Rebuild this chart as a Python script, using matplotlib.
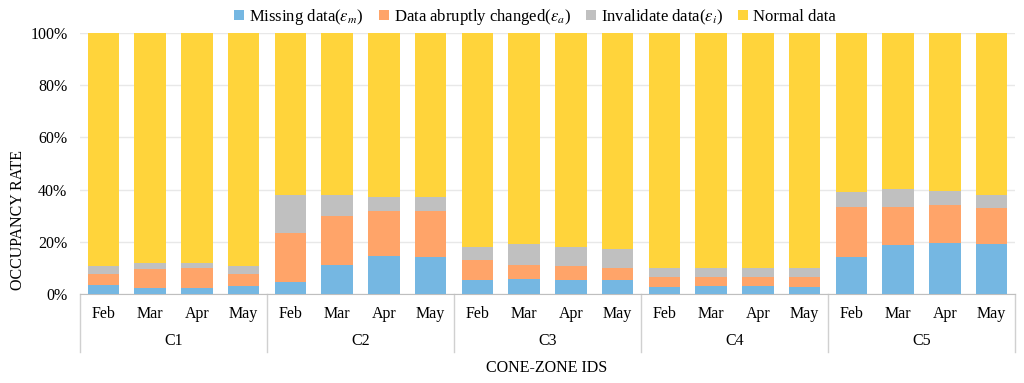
import matplotlib
matplotlib.use("Agg")
import matplotlib.pyplot as plt
import matplotlib.transforms as mtransforms
from matplotlib.patches import Patch
import numpy as np

plt.rcParams['font.family'] = ['Liberation Serif', 'DejaVu Serif']
plt.rcParams['mathtext.fontset'] = 'stix'

groups = ["C1", "C2", "C3", "C4", "C5"]
months = ["Feb", "Mar", "Apr", "May"]

missing = [3.3, 2.2, 2.2, 3.0,
           4.5, 11.1, 14.6, 14.0,
           5.4, 5.8, 5.4, 5.2,
           2.8, 3.1, 3.1, 2.8,
           14.0, 18.6, 19.4, 19.0]
abrupt = [4.2, 7.2, 7.7, 4.5,
          18.9, 18.7, 17.2, 17.8,
          7.5, 5.3, 5.2, 4.9,
          3.6, 3.3, 3.3, 3.6,
          19.2, 14.6, 14.8, 13.8]
invalid = [3.4, 2.5, 2.0, 3.4,
           14.7, 8.3, 5.4, 5.4,
           5.0, 8.0, 7.3, 7.2,
           3.5, 3.5, 3.5, 3.5,
           5.7, 7.1, 5.2, 5.3]
normal = [100 - a - b - c for a, b, c in zip(missing, abrupt, invalid)]

labels = [r"Missing data($\varepsilon_m$)", r"Data abruptly changed($\varepsilon_a$)",
          r"Invalidate data($\varepsilon_i$)", "Normal data"]
colors = ["#75B7E2", "#FFA469", "#C0C0C0", "#FFD43B"]

fig = plt.figure(figsize=(10.24, 3.83), dpi=100)
ax = fig.add_axes([80/1024, 89/383, 935/1024, 261/383])

n = len(groups) * len(months)
x = np.arange(n)
bottom = np.zeros(n)
for vals, col in zip([missing, abrupt, invalid, normal], colors):
    ax.bar(x, vals, width=0.67, bottom=bottom, color=col, zorder=3)
    bottom += np.array(vals)

ax.set_xlim(-0.5, n - 0.5)
ax.set_ylim(0, 100)
ax.set_yticks([0, 20, 40, 60, 80, 100])
ax.set_yticklabels([f"{v}%" for v in [0, 20, 40, 60, 80, 100]], fontsize=11.5)
ax.yaxis.grid(True, color="#E8E8E8", linewidth=1, zorder=0)
ax.tick_params(axis='y', length=0, pad=9)
ax.set_xticks(x)
ax.set_xticklabels(months * len(groups), fontsize=11.5)
ax.tick_params(axis='x', length=0, pad=9)
for s in ["top", "right", "left"]:
    ax.spines[s].set_visible(False)
ax.spines["bottom"].set_color("#BFBFBF")

trans = mtransforms.blended_transform_factory(ax.transData, fig.transFigure)
for i in range(len(groups) + 1):
    xp = i * len(months) - 0.5
    ax.plot([xp, xp], [89/383, 31/383], transform=trans, color="#D0D0D0",
            linewidth=1, clip_on=False)
for i, g in enumerate(groups):
    ax.text(i * len(months) + 1.5, 42/383, g, transform=trans, ha="center",
            va="center", fontsize=11.5)

fig.text(547/1024, 15/383, "CONE-ZONE IDS", ha="center", va="center", fontsize=11.5)
fig.text(18/1024, 163/383, "OCCUPANCY RATE", ha="center", va="center",
         rotation=90, fontsize=11.5)

handles = [Patch(facecolor=c, edgecolor="none") for c in colors]
fig.legend(handles, labels, loc="center", bbox_to_anchor=(535/1024, 366/383),
           ncol=4, frameon=False, fontsize=12, handlelength=0.6,
           handleheight=0.6, handletextpad=0.3, columnspacing=0.9)

fig.savefig("out.png", dpi=100)
